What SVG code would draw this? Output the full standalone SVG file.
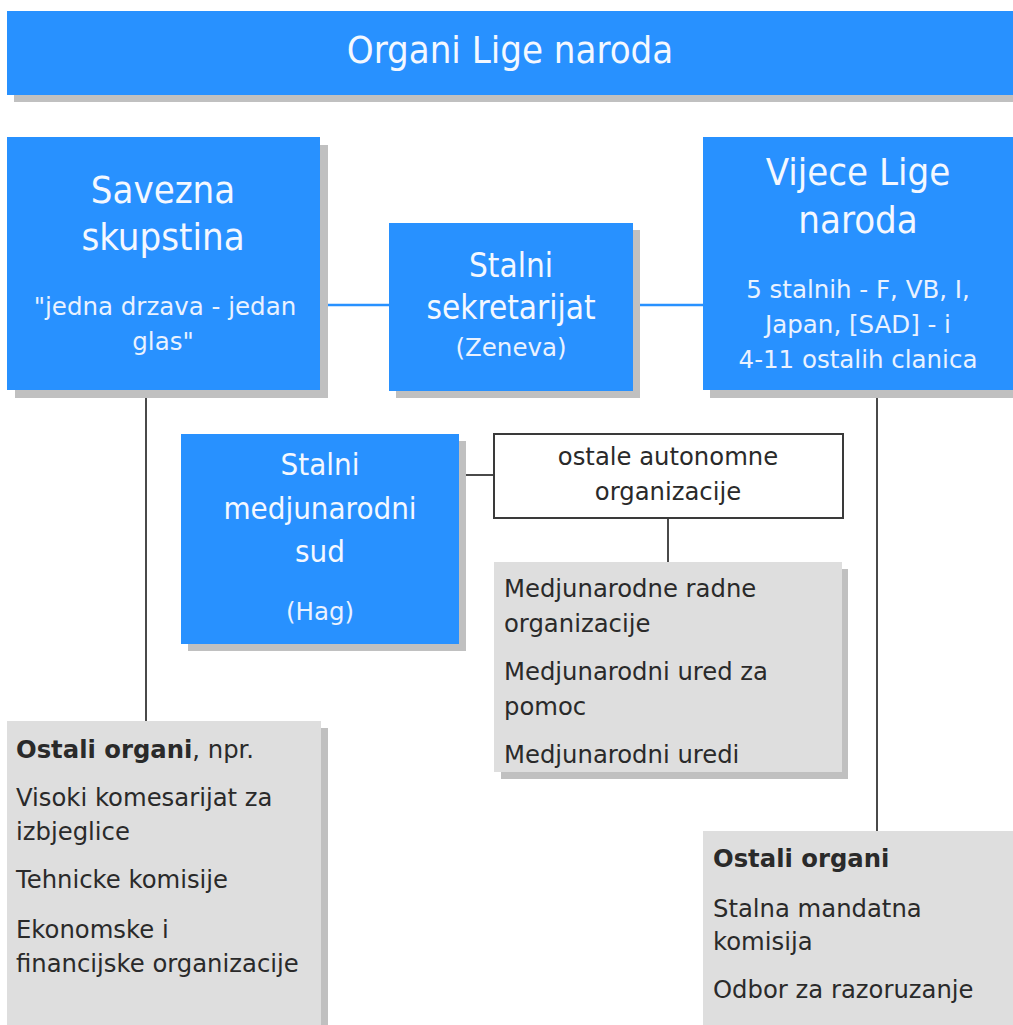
<svg xmlns="http://www.w3.org/2000/svg" width="1013" height="1025" viewBox="0 0 1013 1025">
<style>
.blue{fill:#2891ff}
.shadow{fill:#c0c0c0}
.gray{fill:#dedede}
.hd{font-family:"DejaVu Sans Condensed","DejaVu Sans",sans-serif;font-stretch:condensed;fill:#f4f8ff;text-anchor:middle}
.sub{font-family:"DejaVu Sans",sans-serif;font-size:24.5px;fill:#eaf2ff;text-anchor:middle}
.txt{font-family:"DejaVu Sans",sans-serif;font-size:24.3px;fill:#2a2a2a}
.b{font-weight:bold}
.dk{stroke:#4a4a4a;stroke-width:2;fill:none}
.bl{stroke:#2891ff;stroke-width:2.5;fill:none}
</style>
<rect width="1013" height="1025" fill="#ffffff"/>
<g id="connectors">
<line class="bl" x1="320" y1="305" x2="389" y2="305"/>
<line class="bl" x1="633" y1="305" x2="703" y2="305"/>
<line class="dk" x1="146" y1="390" x2="146" y2="721"/>
<line class="dk" x1="877" y1="390" x2="877" y2="831"/>
<line class="dk" x1="459" y1="475" x2="494" y2="475"/>
<line class="dk" x1="668" y1="518" x2="668" y2="562"/>
</g>
<g id="title">
<rect class="shadow" x="14" y="18" width="999" height="84"/>
<rect class="blue" x="7" y="11" width="1006" height="84"/>
<text class="hd" x="510" y="63" font-size="38">Organi Lige naroda</text>
</g>
<g id="savezna">
<rect class="shadow" x="15" y="145" width="313" height="253"/>
<rect class="blue" x="7" y="137" width="313" height="253"/>
<text class="hd" x="163" y="203" font-size="38">Savezna</text>
<text class="hd" x="163" y="250" font-size="38">skupstina</text>
<text class="sub" x="165" y="315">"jedna drzava - jedan</text>
<text class="sub" x="163" y="350">glas"</text>
</g>
<g id="sekretarijat">
<rect class="shadow" x="396" y="230" width="244" height="168"/>
<rect class="blue" x="389" y="223" width="244" height="168"/>
<text class="hd" x="511" y="277" font-size="33">Stalni</text>
<text class="hd" x="511" y="319" font-size="33">sekretarijat</text>
<text class="sub" x="511" y="356">(Zeneva)</text>
</g>
<g id="vijece">
<rect class="shadow" x="710" y="145" width="303" height="253"/>
<rect class="blue" x="703" y="137" width="310" height="253"/>
<text class="hd" x="858" y="185" font-size="38">Vijece Lige</text>
<text class="hd" x="858" y="233" font-size="38">naroda</text>
<text class="sub" x="858" y="298">5 stalnih - F, VB, I,</text>
<text class="sub" x="858" y="333">Japan, [SAD] - i</text>
<text class="sub" x="858" y="368">4-11 ostalih clanica</text>
</g>
<g id="sud">
<rect class="shadow" x="188" y="441" width="278" height="210"/>
<rect class="blue" x="181" y="434" width="278" height="210"/>
<text class="hd" x="320" y="475" font-size="31">Stalni</text>
<text class="hd" x="320" y="519" font-size="31">medjunarodni</text>
<text class="hd" x="320" y="562" font-size="31">sud</text>
<text class="sub" x="320" y="620">(Hag)</text>
</g>
<g id="ostale">
<rect x="494" y="434" width="349" height="84" fill="#ffffff" stroke="#3a3a3a" stroke-width="2"/>
<text class="txt" x="668" y="465" text-anchor="middle">ostale autonomne</text>
<text class="txt" x="668" y="500" text-anchor="middle">organizacije</text>
</g>
<g id="medjunarodne">
<rect class="shadow" x="501" y="569" width="347" height="210"/>
<rect class="gray" x="494" y="562" width="348" height="210"/>
<text class="txt" x="504" y="597">Medjunarodne radne</text>
<text class="txt" x="504" y="632">organizacije</text>
<text class="txt" x="504" y="680">Medjunarodni ured za</text>
<text class="txt" x="504" y="715">pomoc</text>
<text class="txt" x="504" y="763">Medjunarodni uredi</text>
</g>
<g id="ostali-lijevo">
<rect class="shadow" x="14" y="728" width="314" height="297"/>
<rect class="gray" x="7" y="721" width="314" height="304"/>
<text class="txt" x="16" y="758"><tspan class="b">Ostali organi</tspan>, npr.</text>
<text class="txt" x="16" y="806">Visoki komesarijat za</text>
<text class="txt" x="16" y="840">izbjeglice</text>
<text class="txt" x="16" y="888">Tehnicke komisije</text>
<text class="txt" x="16" y="938">Ekonomske i</text>
<text class="txt" x="16" y="972">financijske organizacije</text>
</g>
<g id="ostali-desno">
<rect class="gray" x="703" y="831" width="310" height="194"/>
<text class="txt b" x="713" y="867">Ostali organi</text>
<text class="txt" x="713" y="917">Stalna mandatna</text>
<text class="txt" x="713" y="950">komisija</text>
<text class="txt" x="713" y="998">Odbor za razoruzanje</text>
</g>
</svg>
